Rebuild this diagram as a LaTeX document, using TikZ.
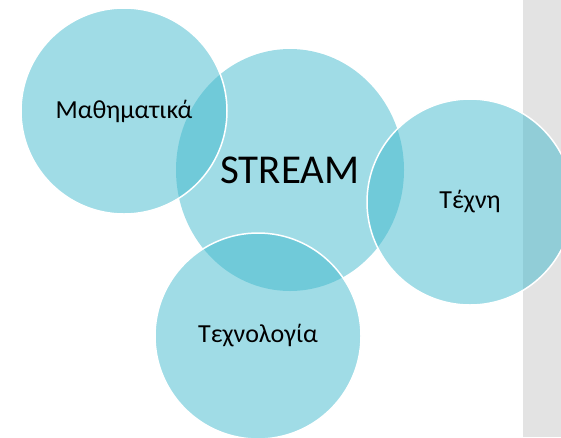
\documentclass[tikz,border=0pt]{standalone}
\usepackage{fontspec}
\setmainfont{Carlito}
\usetikzlibrary{shapes.geometric}
\definecolor{aqua}{RGB}{65,185,205}
\definecolor{panel}{RGB}{227,227,227}
\tikzset{
  bubble/.style={circle, minimum size=206pt, inner sep=0pt, fill=aqua, fill opacity=0.5, text opacity=1, draw=white, line width=1.5pt, font=\fontsize{26}{30}\selectfont},
  bigbubble/.style={ellipse, minimum width=228pt, minimum height=242pt, inner sep=0pt, fill=aqua, fill opacity=0.5, text opacity=1, font=\fontsize{41}{48}\selectfont}
}
\begin{document}
\begin{tikzpicture}[x=1pt,y=-1pt]
\useasboundingbox (0,0) rectangle (561,437);
\fill[panel] (523,0) rectangle (561,437);
\node[bigbubble] (stream) at (290,170) {STREAM};
\node[bubble] (math) at (124,111) {Μαθηματικά};
\node[bubble] (art) at (470,202) {Τέχνη};
\node[bubble] (tech) at (258,336) {Τεχνολογία};
\end{tikzpicture}
\end{document}
